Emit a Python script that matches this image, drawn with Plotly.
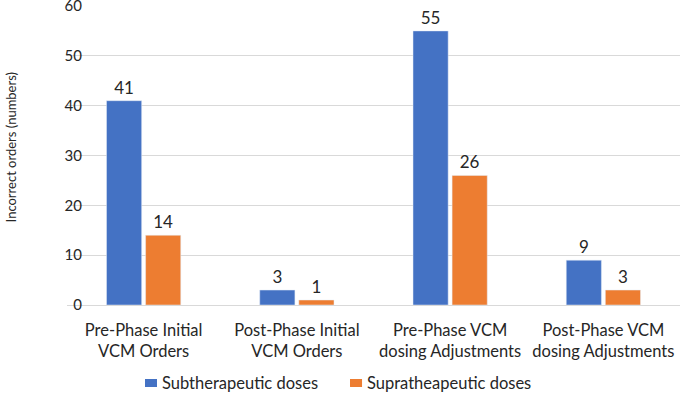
import plotly.graph_objects as go

categories = ["Pre-Phase Initial<br>VCM Orders", "Post-Phase Initial<br>VCM Orders",
              "Pre-Phase VCM<br>dosing Adjustments", "Post-Phase VCM<br>dosing Adjustments"]
sub_values = [41, 3, 55, 9]
supra_values = [14, 1, 26, 3]
series_names = ["Subtherapeutic doses", "Supratheapeutic doses"]
series_colors = ["#4472C4", "#ED7D31"]
y_ticks = [0, 10, 20, 30, 40, 50, 60]
y_title = "Incorrect orders (numbers)"

FONT = "Lato, Open Sans, sans-serif"
TXT = "#262626"

fig = go.Figure()
for vals, name, col in zip([sub_values, supra_values], series_names, series_colors):
    fig.add_trace(go.Bar(x=categories, y=vals, name=name,
                         marker_color=col, text=vals, textposition="outside",
                         textfont=dict(size=17, color=TXT), cliponaxis=False))

# legend drawn below the plot (squares + labels)
legend_pos = [(0.1272, 0.1517), (0.4617, 0.4861)]
for (sx, tx), name, col in zip(legend_pos, series_names, series_colors):
    fig.add_shape(type="rect", xref="paper", yref="paper",
                  x0=sx, x1=sx + 0.0196, y0=-0.2475, y1=-0.2742,
                  fillcolor=col, line=dict(width=0))
    fig.add_annotation(x=tx, y=-0.2609, xref="paper", yref="paper",
                       xanchor="left", yanchor="middle", showarrow=False,
                       text=name, font=dict(size=16.5, color=TXT))

# y-axis title
fig.add_annotation(x=-0.0914, y=0.527, xref="paper", yref="paper",
                   xanchor="center", yanchor="middle", showarrow=False,
                   textangle=-90, text=y_title, font=dict(size=13, color=TXT))

fig.update_layout(
    width=685, height=401,
    margin=dict(l=67, r=5, t=6, b=96, autoexpand=False),
    paper_bgcolor="white", plot_bgcolor="white",
    font=dict(family=FONT, size=14, color=TXT),
    barmode="group", bargap=0.49, bargroupgap=0.1,
    showlegend=False,
    xaxis=dict(showgrid=False, showline=True, linecolor="#D9D9D9", linewidth=1,
               ticks="", tickfont=dict(size=16.5, color=TXT), automargin=False,
               ticklabelstandoff=10),
    yaxis=dict(range=[0, 60], tickvals=y_ticks, showgrid=True, gridcolor="#D9D9D9",
               zeroline=False, showline=False, ticks="", ticklen=0, automargin=False,
               tickfont=dict(size=15, color=TXT), ticklabeloverflow="allow",
               ticklabelstandoff=-16),
)

fig.write_html("out.html", config={"displayModeBar": False},
               post_script="document.body.style.margin='0px';")
